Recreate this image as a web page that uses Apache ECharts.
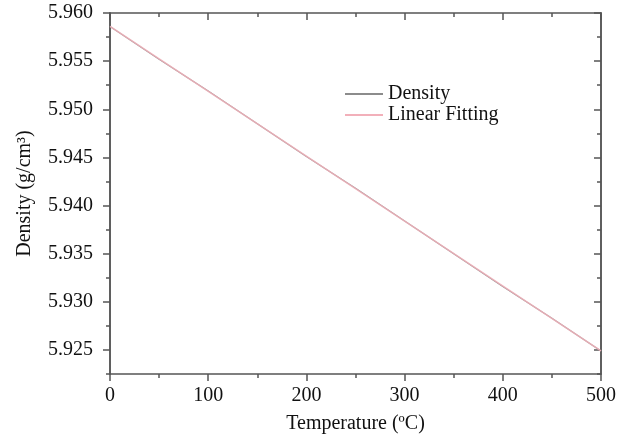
<!DOCTYPE html>
<html>
<head>
<meta charset="utf-8">
<script src="https://cdn.jsdelivr.net/npm/echarts@6/dist/echarts.min.js"></script>
<style>
  html, body { margin: 0; padding: 0; background: #fff; }
  #chart { width: 630px; height: 441px; }
</style>
</head>
<body>
<div id="chart"></div>
<script>
// Measured density vs temperature
const temperature = [0, 50, 100, 150, 200, 250, 300, 350, 400, 450, 500];
const density = [5.9586, 5.9552, 5.9519, 5.9485, 5.9451, 5.9418, 5.9384, 5.9350, 5.9316, 5.9283, 5.9249];

// Linear fit endpoints
const fitTemperature = [0, 500];
const fitDensity = [5.9586, 5.9249];

// Tick positions on the density axis
const yMajorTicks = [5.925, 5.930, 5.935, 5.940, 5.945, 5.950, 5.955, 5.960];
const yMinorTicks = [5.9225, 5.9275, 5.9325, 5.9375, 5.9425, 5.9475, 5.9525, 5.9575];

const FONT = '"Liberation Serif", "DejaVu Serif", serif';
const AXIS_COLOR = '#555';
const Y_MIN = 5.9225, Y_MAX = 5.960;

const chart = echarts.init(document.getElementById('chart'), null, { renderer: 'canvas' });

function yAxisDef(position, ticks, len, inside, withLabels, name) {
  return {
    type: 'value',
    position: position,
    min: Y_MIN,
    max: Y_MAX,
    name: name || '',
    nameLocation: 'middle',
    nameGap: 75,
    nameTextStyle: { fontFamily: FONT, fontSize: 20, color: '#111' },
    axisLine: { show: true, lineStyle: { color: AXIS_COLOR, width: 1.5 } },
    axisTick: { show: true, inside: inside, length: len, customValues: ticks,
                lineStyle: { color: AXIS_COLOR, width: 1.5 } },
    axisLabel: { show: withLabels, customValues: yMajorTicks, margin: 17,
                 fontFamily: FONT, fontSize: 20, color: '#111',
                 formatter: v => v.toFixed(3) },
    splitLine: { show: false }
  };
}

function xAxisDef(position, inside, withLabels, name) {
  return {
    type: 'value',
    position: position,
    min: 0,
    max: 500,
    interval: 100,
    name: name || '',
    nameLocation: 'middle',
    nameGap: 40,
    nameTextStyle: { fontFamily: FONT, fontSize: 20, color: '#111' },
    axisLine: { show: true, lineStyle: { color: AXIS_COLOR, width: 1.5 } },
    axisTick: { show: true, inside: inside, length: 7, lineStyle: { color: AXIS_COLOR, width: 1.5 } },
    minorTick: { show: true, splitNumber: 2, length: 4, lineStyle: { color: AXIS_COLOR, width: 1.5 } },
    axisLabel: { show: withLabels, margin: 12, fontFamily: FONT, fontSize: 20, color: '#111' },
    splitLine: { show: false },
    minorSplitLine: { show: false }
  };
}

const pairs = (xs, ys) => xs.map((x, i) => [x, ys[i]]);

chart.setOption({
  animation: false,
  backgroundColor: '#fff',
  grid: { left: 110, right: 29, top: 13, bottom: 67, containLabel: false },
  legend: {
    orient: 'vertical',
    left: 340,
    top: 79,
    itemWidth: 38,
    itemHeight: 2,
    itemGap: 1,
    icon: 'rect',
    textStyle: { fontFamily: FONT, fontSize: 20, color: '#111', lineHeight: 20 },
    data: ['Density', 'Linear Fitting']
  },
  xAxis: [
    xAxisDef('bottom', false, true, 'Temperature (ºC)'),
    xAxisDef('top', true, false)
  ],
  yAxis: [
    yAxisDef('left', yMajorTicks, 7, false, true, 'Density (g/cm³)'),
    yAxisDef('left', yMinorTicks, 4, false, false),
    yAxisDef('right', yMajorTicks, 7, true, false),
    yAxisDef('right', yMinorTicks, 4, true, false)
  ],
  series: [
    {
      name: 'Density',
      type: 'line',
      data: pairs(temperature, density),
      showSymbol: false,
      symbol: 'none',
      color: '#8c8c8c',
      lineStyle: { color: '#8c8c8c', width: 1.2 },
      z: 2
    },
    {
      name: 'Linear Fitting',
      type: 'line',
      data: pairs(fitTemperature, fitDensity),
      showSymbol: false,
      symbol: 'none',
      color: '#f2b0ba',
      lineStyle: { color: '#f2b0ba', width: 1.5, opacity: 0.85 },
      z: 3
    }
  ]
});
</script>
</body>
</html>
